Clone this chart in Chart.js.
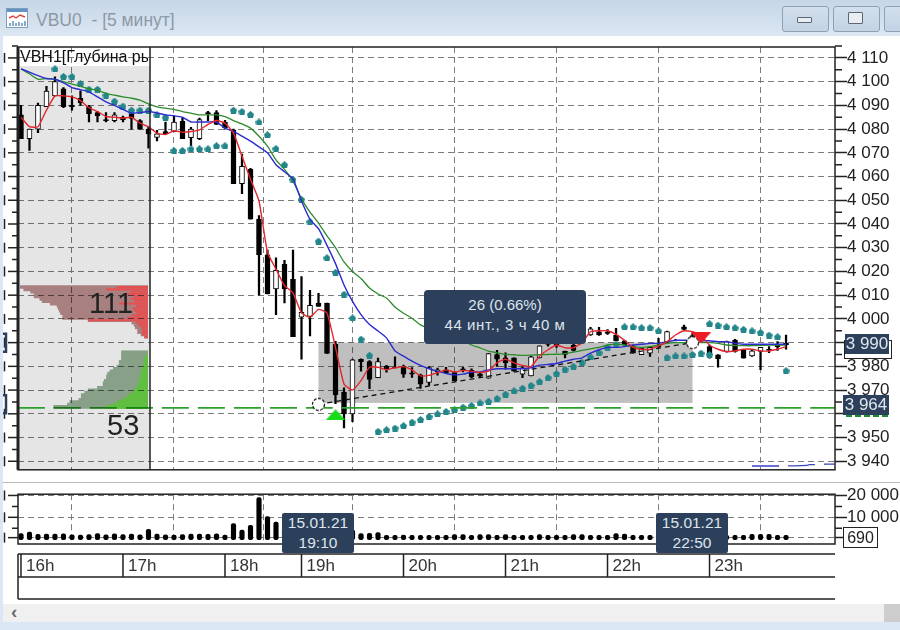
<!DOCTYPE html>
<html>
<head>
<meta charset="utf-8">
<title>VBU0</title>
<script src="https://cdn.jsdelivr.net/npm/chart.js@4/dist/chart.umd.min.js"></script>
<style>
html, body { margin: 0; padding: 0; background: #fff; overflow: hidden; }
body { width: 900px; height: 630px; position: relative; font-family: "Liberation Sans", Arial, sans-serif; filter: blur(0.35px); }
canvas { position: absolute; }
.abs { position: absolute; }
#titlebar { left: 0; top: 0; width: 900px; height: 36px; background: linear-gradient(#c6d6e7, #dce7f2); }
#leftstrip { left: 0; top: 36px; width: 3px; height: 594px; background: #dbe7f4; }
#title { left: 36px; top: 10px; font-size: 17.5px; color: #8d99a6; white-space: pre; }
#icon { left: 6px; top: 8px; }
.btn { top: 6px; height: 24px; border: 1px solid #8ea0b5; border-radius: 3px; background: linear-gradient(#d2dfec, #c3d3e4); }
.glyph { border: 1px solid #5c6672; background: #e8edf2; border-radius: 1px; }
#scroll { left: 3px; top: 604px; width: 897px; height: 18px; background: #f0f0f0; }
#thumb { left: 884px; top: 604px; width: 16px; height: 18px; background: #cdcdcd; }
#bottomstrip { left: 0; top: 622px; width: 900px; height: 8px; background: #dbe7f4; }
#arrow { left: 11px; top: 601px; font-size: 19px; font-weight: bold; color: #6a6a6a; }
#sep { left: 3px; top: 482px; width: 897px; height: 1px; background: #b8b8b8; }
.tip { background: #2c405c; color: #dfe5ec; text-align: center; border-radius: 2px; }
.tag { background: #2c405c; color: #dfe5ec; font-size: 17px; text-align: center; }
#panelname { left: 20px; top: 48px; width: 128px; height: 18px; overflow: hidden; white-space: nowrap; font-size: 16px; color: #111; }
.big { font-size: 29px; color: #222; }
#depth { mix-blend-mode: multiply; }
</style>
</head>
<body>
<div class="abs" id="titlebar"></div>
<div class="abs" id="leftstrip"></div>
<svg class="abs" id="icon" width="22" height="20">
<rect x="0.5" y="0.5" width="21" height="19" fill="#fff" stroke="#7f9cb8"/>
<rect x="1" y="1" width="20" height="3" fill="#5f93c6"/>
<path d="M3 10 L7 8 L10 10 L14 7 L19 9" fill="none" stroke="#d8453c" stroke-width="1.4"/>
<path d="M4 18 V15 M7 18 V13 M10 18 V15 M13 18 V14 M16 18 V15 M19 18 V13" stroke="#5f8fb8" stroke-width="1.5"/>
</svg>
<div class="abs" id="title">VBU0  - [5 минут]</div>
<div class="abs btn" style="left:782px;width:45px"></div>
<div class="abs glyph" style="left:797px;top:17px;width:13px;height:4px"></div>
<div class="abs btn" style="left:833px;width:45px"></div>
<div class="abs glyph" style="left:848px;top:12px;width:13px;height:10px"></div>
<div class="abs btn" style="left:884px;width:30px"></div>
<div class="abs" id="sep"></div>
<div class="abs" id="scroll"></div>
<div class="abs" id="thumb"></div>
<div class="abs" id="arrow">‹</div>
<div class="abs" id="bottomstrip"></div>

<canvas id="main" width="900" height="480" style="left:0;top:0"></canvas>
<canvas id="depth" width="130" height="423" style="left:18px;top:47px"></canvas>
<canvas id="vol" width="900" height="126" style="left:0;top:484px"></canvas>

<div class="abs" id="panelname">VBH1[Глубина рынка]</div>
<div class="abs big" style="left:89px;top:287px">111</div>
<div class="abs big" style="left:107px;top:409px">53</div>

<div class="abs tip" style="left:424px;top:290px;width:162px;height:54px;border-radius:4px;font-size:15px;line-height:20px;padding-top:5px;box-sizing:border-box">26 (0.66%)<br><span style="letter-spacing:0.6px">44 инт., 3 ч 40 м</span></div>
<div class="abs tip" style="left:282px;top:513px;width:72px;height:40px;font-size:15.5px;line-height:20px;box-sizing:border-box">15.01.21<br>19:10</div>
<div class="abs tip" style="left:656px;top:513px;width:72px;height:40px;font-size:15.5px;line-height:20px;box-sizing:border-box">15.01.21<br>22:50</div>

<div class="abs" style="left:844px;top:340px;width:46px;height:17px;border:1.5px solid #222;background:#fff"></div>
<div class="abs tag" style="left:845px;top:334px;width:44px;height:20px;line-height:20px">3 990</div>
<div class="abs" style="left:846px;top:415px;width:42px;height:0;border-bottom:2px dashed #1f8a2a"></div>
<div class="abs tag" style="left:843px;top:395px;width:46px;height:20px;line-height:20px">3 964</div>
<div class="abs" style="left:843px;top:527px;width:33px;height:19px;border:1px solid #222;background:#fff;font-size:16px;line-height:19px;text-align:center;color:#222">690</div>

<script>
var hourIdx = [0, 12, 24, 33, 45, 57, 69, 81];
var hourLabels = ["16h", "17h", "18h", "19h", "20h", "21h", "22h", "23h"];
var priceTicks = [3940, 3950, 3960, 3970, 3980, 3990, 4000, 4010, 4020, 4030, 4040, 4050, 4060, 4070, 4080, 4090, 4100, 4110];
var volTicks = [20000, 10000, 690];

var opens = [4086,4076,4080,4089.5,4094,4097,4090,4093,4089.5,4087,4084,4083.6,4085,4087,4083.6,4080,4076.5,4079,4079,4083.3,4076.4,4076,4087,4087,4083,4079.6,4057,4063,4042,4027,4012.6,4023,4016.7,4000.7,4001,4006.7,4006.7,3989.3,3969.2,3960,3983,3982,3975.2,3980,3979.6,3980,3977.3,3976.3,3973.2,3977.8,3978.5,3977.4,3979,3978.3,3976.8,3975,3985,3983.6,3983.6,3976.7,3976,3983.6,3990,3990,3986.4,3989,3991.9,3993.3,3994.6,3994.6,3993.2,3990.8,3988.3,3984.9,3985.6,3989,3990.3,3991.1,3996.7,3993,3992,3988.3,3984.9,3986.3,3991.1,3986.9,3984.4,3986.3,3987.2,3988.9,3989.7];
var closes = [4076,4080,4090,4096,4100,4089.5,4089.5,4091,4086.5,4085.5,4083.6,4086,4084,4084.5,4080,4078,4078,4078,4083,4076,4080,4084,4086.5,4082,4080.5,4057,4064.3,4042,4027,4010.5,4020.5,4012.6,3992.5,4002.8,4005.7,4005.3,3985.4,3968,3960,3982.8,3982,3974.5,3982,3979,3979.3,3976.7,3976.7,3972.5,3979.5,3978.5,3977.3,3974,3978.6,3975.5,3975.9,3985.4,3983,3981.5,3978,3979.4,3984,3988.7,3989.2,3988.6,3985,3986.7,3990.5,3995.8,3993.2,3993.9,3990.8,3989,3985.6,3987.6,3988,3988.3,3994.7,3991,3995.6,3992,3991,3984.4,3983.2,3990.4,3986.3,3983.5,3986.5,3988,3986.7,3988.3,3989];
var highs = [4090,4080,4091,4098,4102,4097.5,4094,4096,4090,4087.5,4087,4087,4085.5,4087.5,4084,4081,4079.5,4083,4085.5,4085,4080.7,4084.6,4087.5,4087.8,4083.7,4080,4069.5,4063.5,4043.5,4029,4025.7,4024.7,4029,4017.8,4012,4010.8,4006.7,3990.5,3971,3983,3983.2,3982.4,3983.5,3980.4,3984,3980.5,3979.5,3976.7,3979.8,3979.3,3979.6,3977.7,3979.6,3979,3977.5,3985.4,3986.8,3985.7,3983.6,3979.8,3984.3,3988.7,3990.5,3991,3986.4,3990,3992.5,3996.5,3996.4,3995.5,3996,3991,3989,3988,3988.3,3991.8,3994.9,3991.4,3997.4,3994,3993,3989,3985,3990.6,3991.4,3987.2,3987,3988,3988.3,3990.4,3993.2];
var lows = [4076,4071,4078.5,4089.5,4094,4089,4088,4090,4083,4083,4083,4083,4083,4080,4080,4072,4075,4078,4079,4076,4073,4075.5,4083.5,4082,4080,4057,4052.8,4042,4010,4010.5,4001.8,4006.7,3992.5,3983,3992.8,4005.3,3985.4,3964.3,3954,3956.7,3978,3970.6,3975.2,3977.6,3979.3,3975.3,3975.3,3970.7,3972,3976.3,3977.3,3974,3977.7,3975.2,3975.2,3975,3980,3978.8,3978,3975.2,3976,3983.6,3988.5,3988,3983.6,3986.4,3990,3993,3993,3993.5,3990.8,3988.8,3985.6,3984.9,3984.2,3988,3990,3990.7,3995.3,3991,3990,3983.5,3979.7,3986,3986,3983.5,3984.2,3978.6,3985.8,3986.7,3987.2];

var emaFast = [4085,4081,4081,4088,4094,4094,4093.6,4092,4089,4087.4,4085.3,4085,4084.6,4085,4082.5,4081,4078.3,4077.7,4079.3,4078.7,4079,4079.7,4082,4083.6,4082.5,4078.3,4068.6,4058.9,4049.7,4028,4021,4014,4011,4002.5,4000.7,4004,4002.5,3988,3972.6,3970,3974,3979.6,3979.6,3978.6,3979.4,3979.9,3978.5,3976,3976.2,3977.4,3978.5,3977.6,3978.3,3978,3977.4,3978,3981.5,3983,3981.5,3980.4,3979.9,3984.3,3987,3989,3987.8,3987.8,3990,3994.6,3995,3995,3993.5,3991,3988,3987.2,3987.2,3988.6,3990.4,3993.2,3995,3994.6,3993,3989,3987.2,3986.2,3986.5,3987.2,3987.2,3986.5,3986.5,3987.2,3988.3];
var emaMid = [4105.4,4104,4102.5,4101.3,4101,4099.5,4097.5,4096.6,4095.7,4093.6,4091.5,4090,4088.3,4086.7,4087,4087.4,4086.8,4086,4085.6,4085,4083,4083,4083,4083,4080.4,4079,4077,4074.9,4072.5,4070,4065,4062,4059,4049.7,4042,4038,4031,4023.3,4014.3,4007.4,4001.8,3997.6,3994.9,3992,3986.5,3984.3,3982.2,3980.4,3979,3978,3977,3976.4,3976.7,3977.6,3977.6,3978.5,3979,3979,3979,3979,3979.4,3980.5,3980.8,3981.2,3982.2,3983,3983.6,3985.6,3987,3988,3988,3988.3,3989,3989.3,3989.7,3989.7,3990.4,3991,3991,3991,3990.8,3990.8,3990.4,3990.4,3989.7,3989.3,3989.3,3989.3,3989.3,3989.3,3989.3];
var emaSlow = [4105.4,4103.3,4101,4101.3,4101,4100,4099,4098,4097,4096.4,4095,4094.3,4093.6,4093,4092.2,4090.6,4089.4,4088.8,4088.3,4087.4,4086.7,4086,4086,4086,4085.3,4083.6,4082.2,4080.4,4077,4072.8,4067,4063,4058.2,4050.6,4045,4040.4,4035,4030,4024,4020,4017,4013,4010.5,4008.8,4005,4002.4,4000.3,3997.5,3996,3994.7,3993.7,3992.4,3991,3989,3987.8,3986.4,3985.7,3985,3984.9,3984.6,3984.7,3984.9,3985,3985.1,3985.4,3986,3986.7,3987.4,3988,3989,3989.4,3989,3988.3,3988,3988.3,3988.9,3989.7,3990,3990,3990.4,3990,3990,3989.7,3989,3988.8,3988.7,3988.7,3988.8,3989,3989,3989];

var sarIdx = [4,5,6,7,8,9,10,11,12,13,14,15,16,17,18,19,20,21,22,23,24,25,26,27,28,29,30,31,32,33,34,35,36,37,38,39,40,41,42,43,44,45,46,47,48,49,50,51,52,53,54,55,56,57,58,59,60,61,62,63,64,65,66,67,68,69,70,71,72,73,74,75,76,77,78,79,80,81,81,82,83,84,85,86,87,88,89,90];
var sarVal = [4105.4,4102.2,4102.2,4099.2,4096.8,4096.8,4094.3,4091.8,4089.7,4088,4088,4088,4086,4085,4071,4071,4071.7,4071.7,4071.7,4073,4073,4088,4087.4,4086.2,4083,4077.6,4071.8,4065,4058.8,4050.4,4041,4032.8,4025.8,4019.6,4010.4,4000.4,3991.5,3984.7,3952.6,3953.3,3954,3955,3956.5,3957.6,3958.9,3960,3961,3961.7,3962.8,3963.5,3964.6,3965.3,3966.5,3968.3,3969.7,3970.8,3972,3973.6,3975.3,3977,3978.8,3980,3981.8,3984,3985.8,3988,3989.4,3996.7,3996.7,3996.3,3996.3,3995,3983.8,3984.4,3984.4,3985,3985.6,3985,3998,3997.4,3996.7,3996.3,3995.6,3995,3994.3,3993.2,3992.5,3978.2];

var volumes = [2500,3200,2200,2300,2300,2400,2000,1900,2100,2500,2000,2400,2100,2300,2000,4500,2300,2000,1900,2100,2300,2300,2200,2400,1900,7100,4100,6300,19000,10300,7800,5000,6900,4100,4600,3200,2700,4100,3000,4100,2500,2700,3000,1800,1800,1900,1700,1800,1700,1800,1800,2100,2100,1800,2100,2100,1800,2100,1700,1800,1700,2100,1700,1800,1800,2100,2100,1800,1700,1800,2600,2300,1800,1800,1700,2300,2100,2000,1900,2000,1800,2000,1800,1700,1700,1800,2200,2200,2200,1800,1800];

var depthLevels = [4013.5,4012.5,4011.5,4010.5,4009.5,4008.5,4007.5,4006.5,4005.5,4004.5,4003.5,4002.5,4001.5,4000.5,3999.5,3998.5,3997.5,3996.5,3995.5,3994.5,3993.5,3992.5];
var depthAsk = [111,108,102,99,99,94,92,85,79,78,77,76,74,74,52,14,12,11,9,9,6,3];
var depthAskNew = [27,36,15,18,12,15,12,25,10,13,12,10,14,18,52,10,8,6,5,5,5,3];
var bidLevels = [3986,3985,3984,3983,3982,3981,3980,3979,3978,3977,3976,3975,3974,3973,3972,3971,3970,3969,3968,3967,3966,3965,3964,3963];
var depthBid = [23,23,23,23,25,25,27,30,33,35,36,36,38,39,39,44,52,55,58,58,60,68,70,82];
var depthBidNew = [0,0,2,3,3,4,4,5,5,6,6,7,7,8,9,10,12,13,16,18,22,26,30,36];

var lastLevel = 3962.5;
var rangeIdx = [35, 79];
var rangePrice = [3964.6, 3990];
var panelEdge = 15.18;
var trendIdx = [35, 79];
var trendPrice = [3964, 3990];
var bluePartIdx = [86, 89.2, 89.9, 92.5, 92.8, 94.2, 94.6, 95.7];
var bluePartPrice = [3938, 3938, 3938, 3938.3, 3938.6, 3938.6, 3938.8, 3938.8];

var PRICE_MIN = 3936.4, PRICE_MAX = 4114.6, IDX_MIN = -0.35, IDX_MAX = 95.76;
var AXIS_FONT = { family: "'Liberation Sans', Arial, sans-serif", size: 17 };
var GRID = "#7c7c7c";
var DASH = [6, 4];

function pairs(xs, ys) {
    var out = [];
    for (var i = 0; i < xs.length; i++) out.push({ x: xs[i], y: ys[i] });
    return out;
}

function indexed(ys) {
    return ys.map(function(v, i) { return { x: i, y: v }; });
}

function sprite(w, h, draw) {
    var c = document.createElement("canvas");
    c.width = w;
    c.height = h;
    draw(c.getContext("2d"));
    return c;
}

var house = sprite(7, 7, function(g) {
    g.fillStyle = "#23868a";
    g.beginPath();
    g.moveTo(3.5, 0);
    g.lineTo(7, 3);
    g.lineTo(6, 7);
    g.lineTo(1, 7);
    g.lineTo(0, 3);
    g.fill();
});
var triUp = sprite(20, 11, function(g) {
    g.fillStyle = "#16dc1c";
    g.beginPath();
    g.moveTo(10, 0);
    g.lineTo(20, 11);
    g.lineTo(0, 11);
    g.fill();
});
var triDown = sprite(20, 11, function(g) {
    g.fillStyle = "#ee1c24";
    g.beginPath();
    g.moveTo(0, 0);
    g.lineTo(20, 0);
    g.lineTo(10, 11);
    g.fill();
});
var ring = sprite(15, 15, function(g) {
    g.fillStyle = "#fff";
    g.strokeStyle = "#222";
    g.lineWidth = 1.3;
    g.setLineDash([3, 1.5]);
    g.beginPath();
    g.arc(7.5, 7.5, 6, 0, Math.PI * 2);
    g.fill();
    g.stroke();
});

function lineSet(data, color, width, order, dash) {
    return {
        type: "line",
        data: data,
        borderColor: color,
        borderWidth: width,
        borderDash: dash || [],
        pointRadius: 0,
        tension: 0.15,
        order: order,
        xAxisID: "x",
        yAxisID: "y"
    };
}

function markerSet(x, y, style, order) {
    return {
        type: "scatter",
        data: [{ x: x, y: y }],
        pointStyle: style,
        pointRadius: 8,
        order: order
    };
}

// left ruler: the window cuts off the tick labels, only a sliver of them stays
function drawRuler(ctx, area, scale, majors, minors) {
    ctx.strokeStyle = "#222";
    ctx.lineWidth = 1.5;
    majors.forEach(function(v) {
        var y = scale.getPixelForValue(v);
        ctx.beginPath();
        ctx.moveTo(area.left, y);
        ctx.lineTo(area.left - 10, y);
        ctx.stroke();
        ctx.beginPath();
        ctx.moveTo(4.5, y - 5);
        ctx.lineTo(4.5, y + 5);
        ctx.stroke();
    });
    minors.forEach(function(v) {
        var y = scale.getPixelForValue(v);
        ctx.beginPath();
        ctx.moveTo(area.left, y);
        ctx.lineTo(area.left - 6, y);
        ctx.moveTo(area.right, y);
        ctx.lineTo(area.right + 7, y);
        ctx.stroke();
    });
}

var bandsPlugin = {
    id: "bands",
    beforeDatasetsDraw: function(chart) {
        var ctx = chart.ctx, x = chart.scales.x, y = chart.scales.y, a = chart.chartArea;
        ctx.save();
        ctx.fillStyle = "rgba(0,0,0,0.1)";
        ctx.fillRect(a.left, 66, x.getPixelForValue(panelEdge) - a.left, a.bottom - 66);
        ctx.fillStyle = "rgba(0,0,0,0.25)";
        var bx = x.getPixelForValue(rangeIdx[0]), by = y.getPixelForValue(rangePrice[1]);
        ctx.fillRect(bx, by, x.getPixelForValue(rangeIdx[1]) - bx, y.getPixelForValue(rangePrice[0]) - by);
        ctx.restore();
    },
    afterDraw: function(chart) {
        var ctx = chart.ctx, x = chart.scales.x, y = chart.scales.y, a = chart.chartArea;
        ctx.save();
        ctx.strokeStyle = "#222";
        ctx.lineWidth = 1.5;
        ctx.beginPath();
        ctx.moveTo(x.getPixelForValue(panelEdge), 47);
        ctx.lineTo(x.getPixelForValue(panelEdge), a.bottom);
        ctx.stroke();
        var minors = priceTicks.map(function(v) { return v + 5; });
        drawRuler(ctx, a, y, priceTicks, minors);
        ctx.strokeRect(a.left, a.top, a.right - a.left, a.bottom - a.top);
        ctx.lineWidth = 3;
        ctx.beginPath();
        ctx.moveTo(a.left, a.top);
        ctx.lineTo(a.left, a.bottom);
        ctx.stroke();
        // clipped price tags on the left edge
        ctx.strokeStyle = "#2c405c";
        ctx.lineWidth = 2.5;
        [rangePrice[1], trendPrice[0]].forEach(function(p) {
            var py = y.getPixelForValue(p);
            ctx.beginPath();
            ctx.moveTo(3, py - 9);
            ctx.lineTo(6, py - 9);
            ctx.lineTo(6, py + 9);
            ctx.lineTo(3, py + 9);
            ctx.stroke();
        });
        ctx.restore();
    }
};

var bandPlugin = {
    id: "hourband",
    afterDraw: function(chart) {
        var ctx = chart.ctx, x = chart.scales.x, y = chart.scales.y, a = chart.chartArea;
        var top = 554 - 484, mid = 577 - 484, bot = 599 - 484;
        ctx.save();
        drawRuler(ctx, a, y, [20000, 10000, 690], [15000, 5000]);
        ctx.strokeStyle = "#222";
        ctx.lineWidth = 1.5;
        ctx.strokeRect(a.left, a.top, a.right - a.left, a.bottom - a.top);
        ctx.beginPath();
        [top, mid, bot].forEach(function(py) {
            ctx.moveTo(a.left, py);
            ctx.lineTo(a.right, py);
        });
        ctx.moveTo(a.left, top);
        ctx.lineTo(a.left, bot);
        hourIdx.forEach(function(h) {
            var px = x.getPixelForValue(h);
            ctx.moveTo(px, top);
            ctx.lineTo(px, mid);
        });
        ctx.stroke();
        ctx.restore();
    }
};

new Chart(document.getElementById("main"), {
    type: "bar",
    data: {
        datasets: [
            markerSet(37, 3959.6, triUp, 0),
            markerSet(80, 3992, triDown, 0),
            markerSet(trendIdx[0], trendPrice[0], ring, 0),
            markerSet(trendIdx[1], trendPrice[1], ring, 0),
            lineSet(indexed(emaFast), "#e3262c", 1.4, 1),
            lineSet(indexed(emaMid), "#2b2bd0", 1.4, 2),
            lineSet(indexed(emaSlow), "#2c8c2c", 1.3, 3),
            lineSet(pairs(trendIdx, trendPrice), "#111", 1.3, 4, [5, 4]),
            lineSet([{ x: IDX_MIN, y: lastLevel }, { x: IDX_MAX, y: lastLevel }], "#2ea02e", 1.6, 4, [27, 9]),
            lineSet(pairs(bluePartIdx, bluePartPrice), "#3a46c0", 1.3, 4, [27, 9]),
            {
                type: "scatter",
                data: pairs(sarIdx, sarVal),
                pointStyle: house,
                pointRadius: 4,
                order: 5
            },
            {
                data: opens.map(function(o, i) { return { x: i, y: [o, closes[i]] }; }),
                backgroundColor: opens.map(function(o, i) { return closes[i] >= o ? "#fff" : "#000"; }),
                borderColor: "#000",
                borderWidth: 1,
                borderSkipped: false,
                barThickness: 5,
                grouped: false,
                order: 6
            },
            {
                data: lows.map(function(l, i) { return { x: i, y: [l, highs[i]] }; }),
                backgroundColor: "#000",
                barThickness: 1.6,
                grouped: false,
                order: 7
            }
        ]
    },
    options: {
        responsive: false,
        animation: false,
        layout: { padding: { left: 18, top: 47, right: 0, bottom: 0 } },
        plugins: { legend: { display: false }, tooltip: { enabled: false } },
        scales: {
            x: {
                type: "linear",
                offset: false,
                min: IDX_MIN,
                max: IDX_MAX,
                afterBuildTicks: function(s) { s.ticks = hourIdx.map(function(v) { return { value: v }; }); },
                afterFit: function(s) { s.height = 10; },
                ticks: { display: false },
                border: { display: false, dash: DASH },
                grid: { color: GRID, drawTicks: false }
            },
            y: {
                position: "right",
                min: PRICE_MIN,
                max: PRICE_MAX,
                afterBuildTicks: function(s) { s.ticks = priceTicks.map(function(v) { return { value: v }; }); },
                afterFit: function(s) { s.width = 65; },
                ticks: {
                    color: "#222",
                    font: AXIS_FONT,
                    padding: 0,
                    callback: function(v) {
                        if (v == 3960) return "";
                        return String(v).replace(/(\d)(\d{3})$/, "$1 $2");
                    }
                },
                border: { display: false, dash: DASH },
                grid: { color: GRID, tickColor: "#222", tickLength: 12, tickWidth: 1.5, tickBorderDash: [] }
            }
        }
    },
    plugins: [bandsPlugin]
});

new Chart(document.getElementById("depth"), {
    type: "bar",
    data: {
        datasets: [
            { data: pairs(depthAskNew, depthLevels), backgroundColor: "#ff5a5a", barThickness: 1.5, grouped: false, order: 0 },
            { data: pairs(depthAsk, depthLevels), backgroundColor: "#bb8e8e", barThickness: 3, grouped: false, order: 1 },
            { data: pairs(depthBidNew, bidLevels), backgroundColor: "#6bd547", barThickness: 3, grouped: false, order: 0 },
            { data: pairs(depthBid, bidLevels), backgroundColor: "#96b296", barThickness: 3, grouped: false, order: 1 }
        ]
    },
    options: {
        indexAxis: "y",
        responsive: false,
        animation: false,
        layout: { padding: 0 },
        plugins: { legend: { display: false }, tooltip: { enabled: false } },
        scales: {
            x: { type: "linear", reverse: true, min: 0, max: 113, display: false },
            y: { type: "linear", offset: false, min: PRICE_MIN, max: PRICE_MAX, display: false }
        }
    }
});

new Chart(document.getElementById("vol"), {
    type: "bar",
    data: {
        datasets: [{
            data: volumes.map(function(v, i) { return { x: i, y: [-204, v] }; }),
            backgroundColor: "#000",
            barThickness: 4.5,
            borderRadius: 2,
            borderSkipped: false
        }]
    },
    options: {
        responsive: false,
        animation: false,
        layout: { padding: { left: 18, top: 9, right: 0, bottom: 0 } },
        plugins: { legend: { display: false }, tooltip: { enabled: false } },
        scales: {
            x: {
                type: "linear",
                offset: false,
                min: IDX_MIN,
                max: IDX_MAX,
                afterBuildTicks: function(s) { s.ticks = hourIdx.map(function(v) { return { value: v }; }); },
                afterFit: function(s) { s.height = 66; },
                ticks: {
                    color: "#333",
                    font: AXIS_FONT,
                    align: "start",
                    labelOffset: 5,
                    padding: 12,
                    autoSkip: false,
                    maxRotation: 0,
                    callback: function(v) { return hourLabels[hourIdx.indexOf(v)]; }
                },
                border: { display: false, dash: DASH },
                grid: { color: GRID, drawTicks: false }
            },
            y: {
                position: "right",
                min: -2216,
                max: 20580,
                afterBuildTicks: function(s) { s.ticks = volTicks.map(function(v) { return { value: v }; }); },
                afterFit: function(s) { s.width = 65; },
                ticks: {
                    color: "#222",
                    font: AXIS_FONT,
                    padding: 0,
                    callback: function(v) {
                        if (v == 690) return "";
                        return String(v).replace(/(\d)(\d{3})$/, "$1 $2");
                    }
                },
                border: { display: false, dash: DASH },
                grid: { color: GRID, tickColor: "#222", tickLength: 12, tickWidth: 1.5, tickBorderDash: [] }
            }
        }
    },
    plugins: [bandPlugin]
});
</script>
</body>
</html>
